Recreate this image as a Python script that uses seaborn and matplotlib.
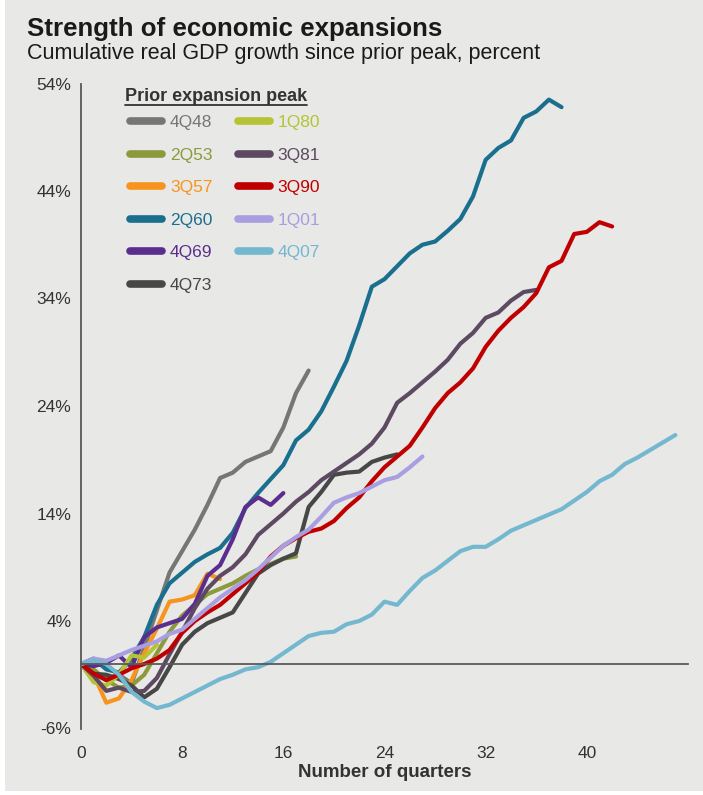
import pandas as pd
import numpy as np
import seaborn as sns
import matplotlib.pyplot as plt
from matplotlib.lines import Line2D
from matplotlib.patches import Rectangle

# prior expansion peaks and their colours
peaks = ['4Q48', '2Q53', '3Q57', '2Q60', '4Q69', '4Q73',
         '1Q80', '3Q81', '3Q90', '1Q01', '4Q07']
colors = ['#767676', '#8c9a3c', '#f7941d', '#1b6f8e', '#5b2d8e', '#474747',
          '#b5c334', '#5d4a62', '#c00000', '#a99ee0', '#74b8d0']

# cumulative real GDP growth (%) by quarter since the peak
g_4q48 = [0, -0.8, -1.3, -1.0, -1.8, 1.5, 5.0, 8.5, 10.5, 12.5, 14.8, 17.3,
          17.8, 18.8, 19.3, 19.8, 22.0, 25.2, 27.3]
g_2q53 = [0, -0.5, -1.5, -2.2, -2.0, -1.0, 1.0, 3.0, 4.5, 5.5, 6.5, 7.0,
          7.5, 8.2, 8.8, 9.3, 9.8, 10.0]
g_3q57 = [0, -1.0, -3.6, -3.2, -1.5, 1.0, 3.3, 5.8, 6.0, 6.4, 8.4, 7.9]
g_2q60 = [0, 0.5, -0.5, -0.8, 0.5, 2.5, 5.5, 7.5, 8.5, 9.5, 10.2, 10.8,
          12.2, 14.5, 15.9, 17.2, 18.5, 20.8, 21.8, 23.5, 25.8, 28.2, 31.5,
          35.1, 35.8, 37.0, 38.2, 39.0, 39.3, 40.3, 41.4, 43.5, 46.9, 48.0,
          48.7, 50.8, 51.4, 52.5, 51.8]
g_4q69 = [0, -0.2, 0.1, 0.8, -0.3, 2.5, 3.4, 3.8, 4.2, 5.6, 8.2, 9.2,
          11.6, 14.6, 15.5, 14.8, 15.9]
g_4q73 = [0, -0.9, -1.0, -1.4, -2.0, -3.1, -2.3, -0.3, 1.8, 3.0, 3.8, 4.3,
          4.8, 6.6, 8.4, 9.2, 9.8, 10.3, 14.6, 16.0, 17.6, 17.8, 17.9, 18.8,
          19.2, 19.5]
g_1q80 = [0, -1.7, -2.0, -1.0, 0.8, 0.6, 1.8]
g_3q81 = [0, -1.1, -2.5, -2.2, -2.6, -2.5, -1.3, 0.9, 3.0, 5.2, 7.0, 8.2,
          9.0, 10.2, 12.0, 13.0, 14.0, 15.1, 16.0, 17.1, 17.9, 18.7, 19.5,
          20.5, 22.0, 24.3, 25.2, 26.2, 27.2, 28.3, 29.8, 30.8, 32.2, 32.7,
          33.8, 34.6, 34.8]
g_3q90 = [0, -0.9, -1.5, -1.0, -0.4, 0.0, 0.5, 1.3, 2.9, 4.0, 4.8, 5.5,
          6.5, 7.5, 8.5, 10.0, 11.0, 11.7, 12.3, 12.6, 13.3, 14.5, 15.5,
          17.0, 18.3, 19.3, 20.3, 22.0, 23.8, 25.2, 26.2, 27.5, 29.5, 31.0,
          32.2, 33.2, 34.5, 36.9, 37.5, 40.0, 40.2, 41.1, 40.7]
g_1q01 = [0, 0.5, 0.3, 0.8, 1.3, 1.7, 2.1, 2.8, 3.2, 4.2, 5.2, 6.2, 7.0,
          7.8, 8.8, 9.9, 11.0, 11.8, 12.5, 13.7, 15.0, 15.5, 15.9, 16.5,
          17.1, 17.4, 18.3, 19.3]
g_4q07 = [0, 0.3, 0.0, -1.0, -2.6, -3.5, -4.1, -3.8, -3.2, -2.6, -2.0, -1.4,
          -1.0, -0.5, -0.3, 0.2, 1.0, 1.8, 2.6, 2.9, 3.0, 3.7, 4.0, 4.6, 5.8,
          5.5, 6.8, 8.0, 8.7, 9.6, 10.5, 10.9, 10.9, 11.6, 12.4, 12.9, 13.4,
          13.9, 14.4, 15.2, 16.0, 17.0, 17.6, 18.6, 19.2, 19.9, 20.6, 21.3]

x_ticks = [0, 8, 16, 24, 32, 40, 48]
x_labels = ['0', '8', '16', '24', '32', '40', '']
y_ticks = [-6, 4, 14, 24, 34, 44, 54]

all_series = [g_4q48, g_2q53, g_3q57, g_2q60, g_4q69, g_4q73,
              g_1q80, g_3q81, g_3q90, g_1q01, g_4q07]
rows = []
for name, vals in zip(peaks, all_series):
    for q, v in enumerate(vals):
        rows.append((name, q, v))
df = pd.DataFrame(rows, columns=['peak', 'quarter', 'growth'])

sns.set_theme(style='white')
plt.rcParams['font.family'] = ['Liberation Sans', 'DejaVu Sans']
bg = '#e8e8e6'
axis_col = '#595959'

fig = plt.figure(figsize=(7.03, 7.95), dpi=100, facecolor='white')
fig.patches.append(Rectangle((5 / 703, 4 / 795), 1, 1, transform=fig.transFigure,
                             facecolor=bg, edgecolor='none', zorder=-10))
ax = fig.add_axes([81 / 703, 66.5 / 795, 607 / 703, 645 / 795])
ax.set_facecolor('none')

sns.lineplot(data=df, x='quarter', y='growth', hue='peak', hue_order=peaks,
             palette=dict(zip(peaks, colors)), estimator=None, sort=False,
             lw=3, legend=False, ax=ax)

ax.set_xlim(0, 48)
ax.set_ylim(-6, 54)
ax.set_xticks(x_ticks)
ax.set_xticklabels(x_labels)
ax.set_yticks(y_ticks)
ax.set_yticklabels([f'{t}%' for t in y_ticks])
for s in ['top', 'right']:
    ax.spines[s].set_visible(False)
ax.spines['bottom'].set_position(('data', 0))
for s in ['bottom', 'left']:
    ax.spines[s].set_color(axis_col)
    ax.spines[s].set_linewidth(1.3)
ax.tick_params(axis='x', direction='out', length=4, width=1.2, color=axis_col,
               pad=55, labelsize=12.5, labelcolor='#333333')
ax.tick_params(axis='y', direction='out', length=4, width=1.2, color=axis_col,
               pad=3, labelsize=12.5, labelcolor='#333333')
ax.set_xlabel('Number of quarters', fontsize=13.5, fontweight='bold',
              color='#333333', labelpad=2)
ax.set_ylabel('')

fig.text(27 / 703, 1 - 36 / 795, 'Strength of economic expansions',
         fontsize=18.6, fontweight='bold', color='#1a1a1a', va='baseline')
fig.text(27 / 703, 1 - 59 / 795, 'Cumulative real GDP growth since prior peak, percent',
         fontsize=15.5, color='#1a1a1a', va='baseline')

# legend with underlined title
lt = fig.text(125 / 703, 1 - 101 / 795, 'Prior expansion peak', fontsize=13,
              fontweight='bold', color='#333333', va='baseline')
rend = fig.canvas.get_renderer()
bb = lt.get_window_extent(rend)
fig.add_artist(Line2D([bb.x0 / fig.bbox.width, bb.x1 / fig.bbox.width],
                      [1 - 105 / 795] * 2, transform=fig.transFigure,
                      color='#333333', lw=1.3))

handles = [Line2D([], [], color=c, lw=5.5) for c in colors]
fig.legend(handles, peaks, loc='upper left', bbox_to_anchor=(130 / 703, 1 - 115 / 795),
           ncol=2, frameon=False, fontsize=12.5, handlelength=1.85, handletextpad=0.45,
           columnspacing=1.45, labelspacing=1.0, borderpad=0, borderaxespad=0,
           labelcolor='linecolor')

fig.savefig('out.png', dpi=100)
